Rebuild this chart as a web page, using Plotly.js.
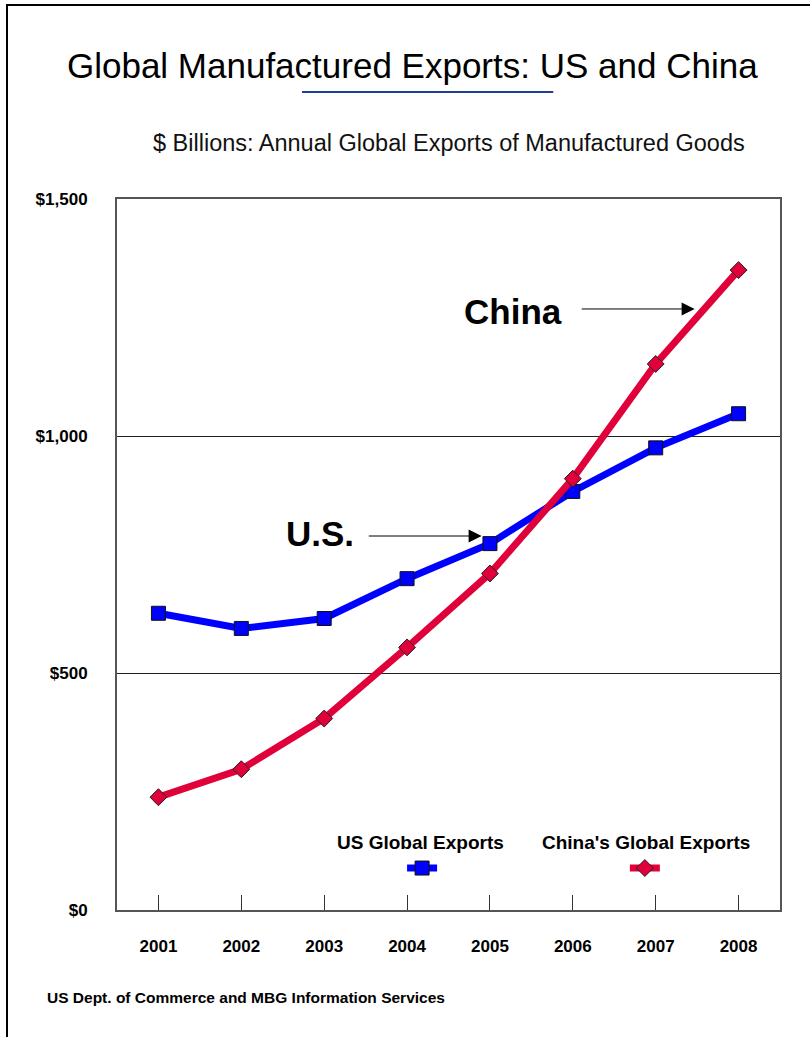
<!DOCTYPE html>
<html>
<head>
<meta charset="utf-8">
<script src="https://cdn.plot.ly/plotly-3.0.1.min.js"></script>
<style>
html,body{margin:0;padding:0;background:#fff;}
#wrap{position:relative;width:810px;height:1037px;overflow:hidden;}
#chart{position:absolute;left:0;top:0;width:810px;height:1037px;}
#frame{position:absolute;left:6px;top:4px;width:900px;height:1100px;border-top:2px solid #000;border-left:2px solid #000;pointer-events:none;}
</style>
</head>
<body>
<div id="wrap"><div id="chart"></div><div id="frame"></div></div>
<script>
var years = [2001, 2002, 2003, 2004, 2005, 2006, 2007, 2008];
var usExports = [626, 594, 615, 699, 773, 883, 975, 1047];
var chinaExports = [238, 297, 404, 554, 710, 910, 1152, 1350];
var yTickVals = [0, 500, 1000, 1500];
var yTickText = ['$0', '$500', '$1,000', '$1,500'];
var seriesNames = ['US Global Exports', "China's Global Exports"];

var FONT = 'Arial, "Liberation Sans", sans-serif';
var BLUE = '#0000FF';
var RED = '#E0003A';

var traces = [
  {
    x: years, y: usExports, type: 'scatter', mode: 'lines+markers',
    name: '', legend: 'legend',
    line: {color: BLUE, width: 7},
    marker: {symbol: 'square', size: 14, color: BLUE, line: {color: '#111', width: 1}}
  },
  {
    x: years, y: chinaExports, type: 'scatter', mode: 'lines+markers',
    name: '', legend: 'legend2',
    line: {color: RED, width: 7},
    marker: {symbol: 'diamond', size: 13, color: RED, line: {color: '#222', width: 1}}
  }
];

var layout = {
  width: 810, height: 1037,
  paper_bgcolor: '#fff', plot_bgcolor: '#fff',
  margin: {l: 117, r: 30, t: 199, b: 127},
  font: {family: FONT, color: '#000'},
  title: {
    text: 'Global Manufactured Exports: US and China',
    font: {family: FONT, size: 35, color: '#000'},
    xref: 'container', x: 0.509, xanchor: 'center',
    yref: 'container', y: 0.937, yanchor: 'middle'
  },
  xaxis: {
    range: [2000.5, 2008.5],
    tickvals: years, ticktext: years.map(String),
    ticks: 'inside', ticklen: 15, tickwidth: 1, tickcolor: '#333',
    showgrid: false, zeroline: false,
    showline: true, linecolor: '#555', linewidth: 2, mirror: true,
    tickfont: {family: FONT, size: 17, color: '#000', weight: 'bold'},
    ticklabelstandoff: 20
  },
  yaxis: {
    range: [0, 1500],
    tickvals: yTickVals, ticktext: yTickText,
    ticks: '', showgrid: true, gridcolor: '#222', gridwidth: 1,
    zeroline: false,
    showline: true, linecolor: '#555', linewidth: 2, mirror: true,
    tickfont: {family: FONT, size: 17, color: '#000', weight: 'bold'},
    ticklabelstandoff: 24
  },
  showlegend: true,
  legend: {
    x: 0.430, xanchor: 'left', y: 0.059, yanchor: 'middle',
    bgcolor: 'rgba(0,0,0,0)', borderwidth: 0,
    font: {size: 2}, itemwidth: 30, tracegroupgap: 0
  },
  legend2: {
    x: 0.766, xanchor: 'left', y: 0.059, yanchor: 'middle',
    bgcolor: 'rgba(0,0,0,0)', borderwidth: 0,
    font: {size: 2}, itemwidth: 30, tracegroupgap: 0
  },
  shapes: [
    {type: 'line', xref: 'paper', yref: 'paper', x0: 0.279, x1: 0.658, y0: 1.1505, y1: 1.1505,
     line: {color: '#1F3F8F', width: 2}}
  ],
  annotations: [
    {text: '$ Billions: Annual Global Exports of Manufactured Goods', xref: 'paper', yref: 'paper',
     x: 0.5, y: 1.0788, xanchor: 'center', yanchor: 'middle', showarrow: false,
     font: {family: FONT, size: 23.5, color: '#111'}},
    {text: 'China', xref: 'x', yref: 'y', x: 2005.28, y: 1263, xanchor: 'center', yanchor: 'middle',
     showarrow: false, font: {family: FONT, size: 35, color: '#000', weight: 'bold'}},
    {text: '', xref: 'x', yref: 'y', axref: 'x', ayref: 'y', x: 2007.47, y: 1268, ax: 2006.09, ay: 1268,
     showarrow: true, arrowhead: 2, arrowsize: 2.6, arrowwidth: 1, arrowcolor: '#000'},
    {text: 'U.S.', xref: 'x', yref: 'y', x: 2002.95, y: 795, xanchor: 'center', yanchor: 'middle',
     showarrow: false, font: {family: FONT, size: 35, color: '#000', weight: 'bold'}},
    {text: '', xref: 'x', yref: 'y', axref: 'x', ayref: 'y', x: 2004.90, y: 789, ax: 2003.52, ay: 789,
     showarrow: true, arrowhead: 2, arrowsize: 2.6, arrowwidth: 1, arrowcolor: '#000'},
    {text: seriesNames[0], xref: 'paper', yref: 'paper', x: 0.4585, y: 0.0956,
     xanchor: 'center', yanchor: 'middle', showarrow: false,
     font: {family: FONT, size: 19, color: '#000', weight: 'bold'}},
    {text: seriesNames[1], xref: 'paper', yref: 'paper', x: 0.798, y: 0.0956,
     xanchor: 'center', yanchor: 'middle', showarrow: false,
     font: {family: FONT, size: 19, color: '#000', weight: 'bold'}},
    {text: 'US Dept. of Commerce and MBG Information Services', xref: 'paper', yref: 'paper',
     x: -0.1086, y: -0.1224, xanchor: 'left', yanchor: 'middle', showarrow: false,
     font: {family: FONT, size: 15.5, color: '#000', weight: 'bold'}}
  ]
};

Plotly.newPlot('chart', traces, layout, {displayModeBar: false, staticPlot: true});
</script>
</body>
</html>
